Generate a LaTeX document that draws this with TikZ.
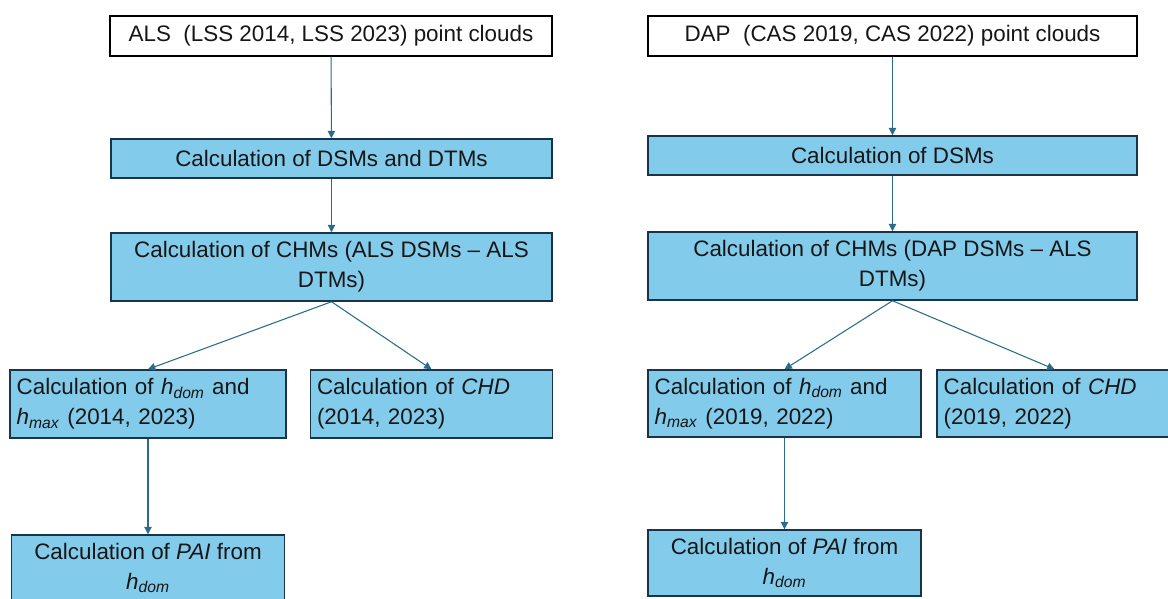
\documentclass[tikz,border=0pt]{standalone}
\usepackage{fontspec}
\setmainfont{Liberation Sans}
\usepackage{tikz}
\usetikzlibrary{arrows.meta}

\definecolor{boxFill}{RGB}{131,203,235}
\definecolor{boxLine}{RGB}{24,52,72}
\definecolor{arrowCol}{RGB}{42,108,142}
\definecolor{textCol}{RGB}{22,22,22}

\newcommand{\hdom}{\textit{h}\textsubscript{\textit{dom}}}
\newcommand{\hmax}{\textit{h}\textsubscript{\textit{max}}}

\begin{document}
\begin{tikzpicture}[x=0.75pt,y=-0.75pt]
	\useasboundingbox (0,0) rectangle (1168,599);
	\begin{scope}
		[
			every node/.style={font=\fontsize{16.8}{22.5}\selectfont, text=textCol, inner sep=0pt},
			styleSource/.style={draw=black, line width=1.1pt, fill=white,
				minimum width=#1, minimum height=30pt},
			styleStep/.style={draw=boxLine, line width=1.1pt, fill=boxFill,
				minimum width=#1, minimum height=29.25pt},
			styleWide/.style={draw=boxLine, line width=1.1pt, fill=boxFill,
				minimum width=#1, minimum height=51pt, align=center},
			styleLeft/.style={draw=boxLine, line width=1.1pt, fill=boxFill,
				text width=#1, inner xsep=5pt, minimum height=51pt, align=left},
		]
		% ALS branch
		\node(alsPC)[styleSource=331.5pt] at (331,36) {ALS~~(LSS 2014, LSS 2023) point clouds};
		\node(alsSurf)[styleStep=330.75pt] at (331.5,158.5) {Calculation of DSMs and DTMs};
		\node(alsChm)[styleWide=330.75pt] at (331.5,267) {Calculation of CHMs (ALS DSMs -- ALS\\DTMs)};
		\node(alsH)[styleLeft=197pt] at (148,404) {Calculation of \hdom{} and\\\hmax{} (2014, 2023)};
		\node(alsChd)[styleLeft=171.75pt] at (431.5,404) {Calculation of \textit{CHD}\\(2014, 2023)};
		\node(alsPai)[styleWide=204.75pt, minimum height=49.5pt] at (148,568) {Calculation of \textit{PAI} from\\\hdom};

		% DAP branch
		\node(dapPC)[styleSource=366.75pt] at (892.5,36) {DAP~~(CAS 2019, CAS 2022) point clouds};
		\node(dapSurf)[styleStep=366.75pt] at (892.5,155.5) {Calculation of DSMs};
		\node(dapChm)[styleWide=366.75pt] at (892.5,266) {Calculation of CHMs (DAP DSMs -- ALS\\DTMs)};
		\node(dapH)[styleLeft=194.75pt, minimum height=50.25pt] at (784.5,403.5) {Calculation of \hdom{} and\\\hmax{} (2019, 2022)};
		\node(dapChd)[styleLeft=166.25pt, minimum height=50.25pt] at (1054.5,403.5) {Calculation of \textit{CHD}\\(2019, 2022)};
		\node(dapPai)[styleWide=204.75pt, minimum height=49.5pt] at (784.5,563) {Calculation of \textit{PAI} from\\\hdom};
	\end{scope}
	\begin{scope}
		[flow/.style={draw=arrowCol, line width=0.8pt,
			-{Triangle[length=5.5pt,width=5.5pt]}}]
		\path
		(alsPC) edge[flow]          (alsSurf)
		(alsSurf) edge[flow]        (alsChm)
		(alsChm.south) edge[flow]   (alsH.north)
		(alsChm.south) edge[flow]   (alsChd.north)
		(alsH) edge[flow]           (alsPai)

		(dapPC) edge[flow]          (dapSurf)
		(dapSurf) edge[flow]        (dapChm)
		(dapChm.south) edge[flow]   (dapH.north)
		(dapChm.south) edge[flow]   (dapChd.north)
		(dapH) edge[flow]           (dapPai);
	\end{scope}
\end{tikzpicture}
\end{document}
